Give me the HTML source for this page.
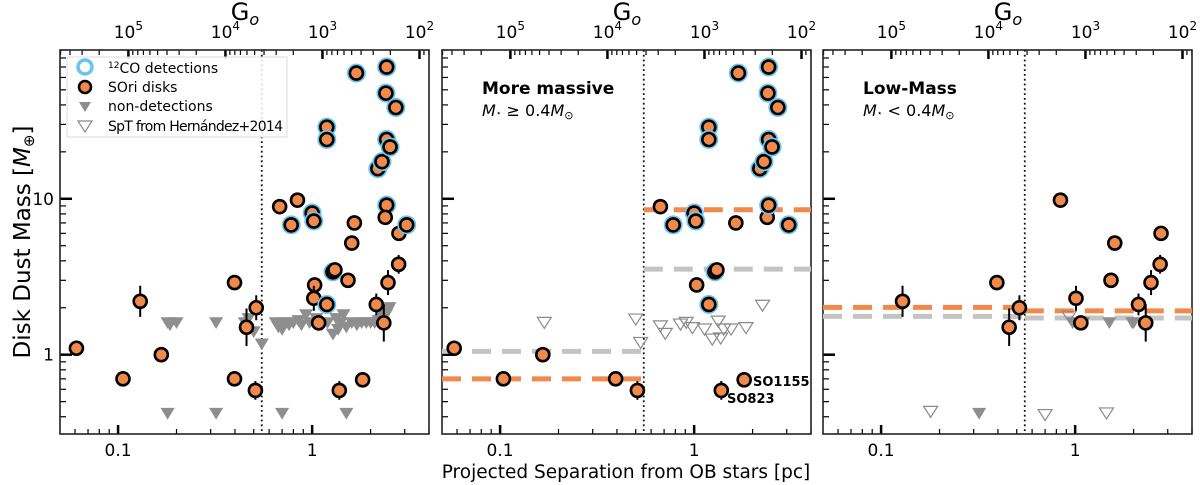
<!DOCTYPE html>
<html><head><meta charset="utf-8"><style>
body{margin:0;background:#fff}
svg{display:block;font-family:"DejaVu Sans","Liberation Sans",sans-serif}
</style></head><body>
<svg id="c" width="1200" height="485" viewBox="0 0 1200 485"></svg>
<script>
// ---- data ----
const p1D=[0.061,0.106,0.13,0.167,0.398,0.398,0.459,0.515,0.51,0.68,0.78,0.84,1.0,1.02,1.03,1.02,1.08,1.19,1.19,1.19,1.28,1.31,1.38,1.53,1.6,1.65,1.69,1.82,2.14,2.18,2.29,2.34,2.4,2.42,2.42,2.42,2.38,2.46,2.52,2.7,2.8,2.79,3.07];
const p1M=[1.1,0.7,2.2,1.0,2.9,0.7,1.5,2.0,0.59,8.9,6.8,9.8,8.1,7.2,2.8,2.3,1.6,2.1,28.8,24,3.4,3.5,0.59,3.0,5.2,7.0,64,0.69,2.1,15.6,17.3,1.6,47.6,70,24,9.1,7.6,2.9,21.5,38.5,6.0,3.8,6.8];
const p1CO=[0,0,0,0,0,0,0,0,0,0,1,0,1,1,0,0,0,1,1,1,1,0,0,0,0,0,1,0,0,1,1,0,1,1,1,1,0,0,1,1,0,0,1];
const p1Err=[0,0.04,0.1,0,0,0.04,0.12,0.08,0.06,0,0,0,0,0,0,0.08,0.05,0,0,0,0,0,0.06,0.04,0,0,0,0.04,0.07,0,0,0.12,0,0,0,0,0,0.08,0,0,0,0.06,0];
const p1NdD=[0.18,0.185,0.2,0.32,0.45,0.47,0.55,0.65,0.67,0.7,0.72,0.76,0.8,0.85,0.88,0.93,0.97,1.05,1.12,1.2,1.28,1.33,1.36,1.4,1.45,1.5,1.6,1.7,1.8,1.9,2.0,2.1,2.2,2.3,2.4,2.45,2.5,0.18,0.32,0.7,1.5,0.5];
const p1NdM=[1.6,1.55,1.6,1.6,1.6,1.7,1.17,1.6,1.5,1.45,1.6,1.55,1.6,1.65,1.55,1.8,1.6,1.7,1.55,1.6,1.35,1.7,1.45,1.6,1.8,1.5,1.6,1.55,1.6,1.6,1.6,1.6,1.65,1.75,1.8,1.9,2.0,0.42,0.42,0.42,0.42,1.4];

const p2D=[0.058,0.104,0.166,0.394,0.51,0.67,0.78,1.0,1.02,1.03,1.19,1.19,1.19,1.28,1.31,1.38,1.64,1.69,1.81,2.18,2.29,2.38,2.42,2.42,2.4,2.42,2.52,2.7,3.07];
const p2M=[1.1,0.7,1.0,0.7,0.59,8.9,6.8,8.1,7.2,2.8,28.8,24,2.1,3.4,3.5,0.59,7.0,64,0.69,15.6,17.3,7.6,9.1,24,47.6,70,21.5,38.5,6.8];
const p2CO=[0,0,0,0,0,0,1,1,1,0,1,1,1,1,0,0,0,1,0,1,1,0,1,1,1,1,1,1,1];
const p2Err=[0,0.04,0,0.04,0.06,0,0,0,0,0,0,0,0,0,0,0.06,0,0,0.04,0,0,0,0,0,0,0,0,0,0];
const p2SptD=[0.169,0.5,0.53,0.67,0.71,0.85,0.91,0.98,1.13,1.24,1.33,1.37,1.42,1.55,1.85,2.25];
const p2SptM=[1.6,1.68,1.19,1.52,1.36,1.56,1.6,1.48,1.45,1.25,1.63,1.27,1.45,1.45,1.48,2.06];
const p2Med=[0.70,8.5,1.05,3.54];

const p3D=[0.129,0.395,0.457,0.516,0.84,1.01,1.07,1.53,1.6,2.12,2.31,2.46,2.74,2.77];
const p3M=[2.2,2.9,1.5,2.0,9.8,2.3,1.6,3.0,5.2,2.1,1.6,2.9,3.8,6.0];
const p3Err=[0.1,0,0.12,0.08,0,0.08,0,0.04,0,0.07,0.12,0.08,0.06,0];
const p3NdD=[0.32,0.97,1.1,1.5,1.97,2.0];
const p3NdM=[0.42,1.6,1.6,1.6,1.6,1.6];
const p3SptD=[0.18,0.7,1.45,0.93];
const p3SptM=[0.43,0.41,0.42,1.75];
const p3Med=[2.01,1.91,1.76,1.72];

const splitD=0.55;
const gTicks=[5,4,3,2];
// ---- layout ----
const NS="http://www.w3.org/2000/svg";
const svg=document.getElementById('c');
const lefts=[60,442,823],W=369,TOP=50,BOT=434;
const XMIN=0.0502,XMAX=4.0,YMIN=0.31,YMAX=90;
function xs(p,d){return lefts[p]+W*(Math.log10(d)-Math.log10(XMIN))/(Math.log10(XMAX)-Math.log10(XMIN));}
function ys(m){return BOT-(BOT-TOP)*(Math.log10(m)-Math.log10(YMIN))/(Math.log10(YMAX)-Math.log10(YMIN));}
function el(tag,attrs,parent){const e=document.createElementNS(NS,tag);for(const k in attrs)e.setAttribute(k,attrs[k]);(parent||svg).appendChild(e);return e;}
function txt(x,y,s,attrs,parent){const t=el('text',Object.assign({x:x,y:y},attrs),parent);t.innerHTML=s;return t;}

function axes(p){
  const g=el('g',{});
  
  
  const L=lefts[p];
  for(let e=-2;e<=0;e++)for(let k=1;k<=9;k++){const d=k*Math.pow(10,e);if(d<XMIN||d>XMAX)continue;const x=xs(p,d);const maj=k==1;
    el('line',{x1:x,x2:x,y1:BOT,y2:BOT-(maj?9:5),stroke:'#000','stroke-width':maj?2.5:1.2},g);}
  txt(xs(p,0.1),456,'0.1',{'text-anchor':'middle','font-size':17},g);
  txt(xs(p,1),456,'1',{'text-anchor':'middle','font-size':17},g);
  for(let e=-1;e<=1;e++)for(let k=1;k<=9;k++){const m=k*Math.pow(10,e);if(m<YMIN||m>YMAX)continue;const y=ys(m);const maj=k==1;
    el('line',{x1:L,x2:L+(maj?12:6),y1:y,y2:y,stroke:'#000','stroke-width':maj?2.5:1.2},g);
    if(maj&&p==0)txt(L-6,y+6,String(m),{'text-anchor':'end','font-size':17},g);}
  for(let e=1;e<=5;e++)for(let k=1;k<=9;k++){const G=k*Math.pow(10,e);const d=Math.sqrt(1277/G);if(d<XMIN||d>XMAX)continue;const x=xs(p,d);const maj=k==1;
    el('line',{x1:x,x2:x,y1:TOP,y2:TOP+(maj?9:5),stroke:'#000','stroke-width':maj?2.5:1.2},g);}
  gTicks.forEach(e=>{const x=xs(p,Math.sqrt(1277/Math.pow(10,e)));
    txt(x,38,'10<tspan dy="-8" font-size="12">'+e+'</tspan>',{'text-anchor':'middle','font-size':17},g);});
  txt(L+185,20,'G<tspan dy="5" font-size="16" font-style="italic">o</tspan>',{'text-anchor':'middle','font-size':24},g);
  const xsL=xs(p,splitD);
  el('line',{x1:xsL,x2:xsL,y1:TOP,y2:BOT,stroke:'#111','stroke-width':1.8,'stroke-dasharray':'1.8,3'},g);
  el('rect',{x:L,y:TOP,width:W,height:BOT-TOP,fill:'none',stroke:'#222','stroke-width':1.6},g);
}
function median(p,vals){
  const xl=xs(p,splitD);
  const segs=[[lefts[p],xl,vals[2],'#c4c4c4'],[xl,lefts[p]+W,vals[3],'#c4c4c4'],[lefts[p],xl,vals[0],'#ef8a4c'],[xl,lefts[p]+W,vals[1],'#ef8a4c']];
  segs.forEach((s,i)=>{const y=ys(s[2]);const l=el('line',{x1:s[0],x2:s[1],y1:y,y2:y,stroke:s[3],'stroke-width':5,'stroke-dasharray':'19,11'});
    
    });
}
function tri(p,d,m,filled){
  const x=xs(p,d),y=ys(m),w=filled?6:7,h=filled?10:11;
  const t=el('polygon',{points:(x-w)+','+(y-h/2)+' '+(x+w)+','+(y-h/2)+' '+x+','+(y+h/2),fill:filled?'#8e8e8e':'none',stroke:filled?'#8e8e8e':'#8a8a8a','stroke-width':1.2});
  
  
}
function pts(p,D,M,CO,E){
  D.forEach((d,i)=>{const x=xs(p,d),y=ys(M[i]);
    if(E[i]>0){const l=el('line',{x1:x,x2:x,y1:ys(M[i]*Math.pow(10,E[i])),y2:ys(M[i]/Math.pow(10,E[i])),stroke:'#000','stroke-width':2});
      
      }
    if(CO&&CO[i]){const r=el('circle',{cx:x,cy:y,r:9.5,fill:'#6cc4ee'});
      
      }
    const c=el('circle',{cx:x,cy:y,r:6.5,fill:'#ef8a4c',stroke:'#000','stroke-width':2.6});
    
    
  });
}
[0,1,2].forEach(axes);
p1NdD.forEach((d,i)=>tri(0,d,p1NdM[i],true));
pts(0,p1D,p1M,p1CO,p1Err);
median(1,p2Med);
p2SptD.forEach((d,i)=>tri(1,d,p2SptM[i],false));
pts(1,p2D,p2M,p2CO,p2Err);
median(2,p3Med);
p3NdD.forEach((d,i)=>tri(2,d,p3NdM[i],true));
p3SptD.forEach((d,i)=>tri(2,d,p3SptM[i],false));
pts(2,p3D,p3M,null,p3Err);
</script>
<div style="position:absolute;left:0;top:0;width:1200px;height:485px;pointer-events:none">
<svg width="1200" height="485" style="position:absolute;left:0;top:0;font-family:'DejaVu Sans','Liberation Sans',sans-serif">
 <g>
  <rect x="67" y="57" width="220" height="80" fill="#fff" fill-opacity="0.85" stroke="#ddd" stroke-width="1"/>
  <circle cx="85" cy="67" r="7" fill="none" stroke="#6cc4ee" stroke-width="3.5"/>
  <text x="108" y="73" font-size="14"><tspan dy="-5" font-size="9">12</tspan><tspan dy="5">CO detections</tspan></text>
  <circle cx="85" cy="87" r="6" fill="#ef8a4c" stroke="#000" stroke-width="2.6"/>
  <text x="108" y="92" font-size="14">SOri disks</text>
  <polygon points="79,102 91,102 85,112" fill="#8e8e8e"/>
  <text x="108" y="111" font-size="14">non-detections</text>
  <polygon points="78,121 92,121 85,132" fill="none" stroke="#8a8a8a" stroke-width="1.2"/>
  <text x="108" y="131" font-size="14" textLength="175">SpT from Hernández+2014</text>
 </g>
 <text x="482" y="94" font-size="17" font-weight="bold">More massive</text>
 <text x="482" y="116" font-size="16"><tspan font-style="italic">M</tspan><tspan font-size="9">⋆</tspan> ≥ 0.4<tspan font-style="italic">M</tspan><tspan font-size="11" dy="3">⊙</tspan></text>
 <text x="863" y="94" font-size="17" font-weight="bold">Low-Mass</text>
 <text x="863" y="116" font-size="16"><tspan font-style="italic">M</tspan><tspan font-size="9">⋆</tspan> &lt; 0.4<tspan font-style="italic">M</tspan><tspan font-size="11" dy="3">⊙</tspan></text>
 <text x="753" y="386" font-size="13" font-weight="bold">SO1155</text>
 <text x="727" y="403" font-size="13" font-weight="bold">SO823</text>
 <text x="626" y="478" font-size="18.5" text-anchor="middle">Projected Separation from OB stars [pc]</text>
 <text transform="translate(30,242) rotate(-90)" font-size="23" text-anchor="middle">Disk Dust Mass [<tspan font-style="italic">M</tspan><tspan font-size="15" dy="4">⊕</tspan><tspan dy="-4">]</tspan></text>
</svg></div>
</body></html>
